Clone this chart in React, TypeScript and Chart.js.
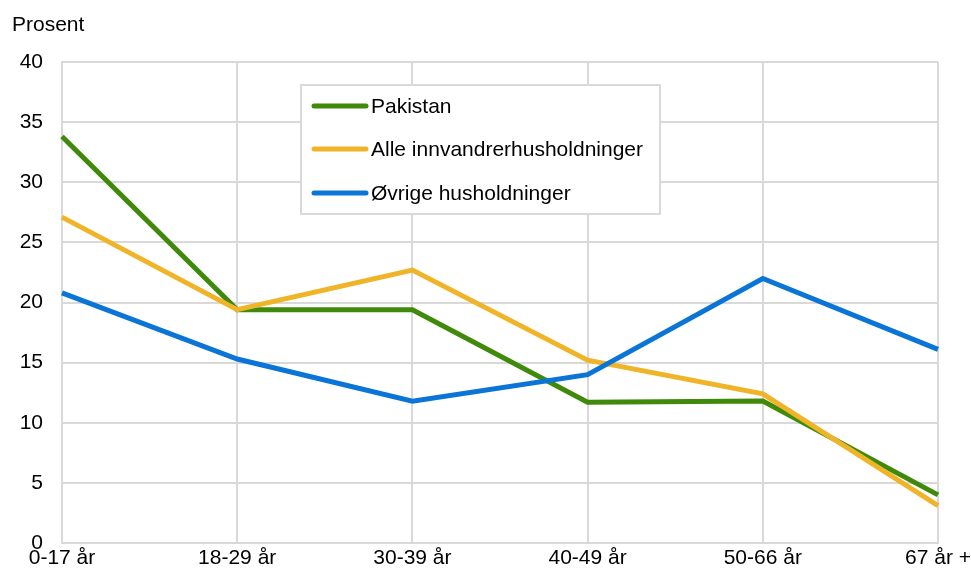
import React, { useEffect, useRef } from "react";
import Chart from "chart.js/auto";

const categories = ["0-17 år", "18-29 år", "30-39 år", "40-49 år", "50-66 år", "67 år +"];
const pakistan = [33.8, 19.4, 19.4, 11.7, 11.8, 4.0];
const alleInnvandrer = [27.1, 19.4, 22.7, 15.2, 12.4, 3.1];
const ovrige = [20.8, 15.3, 11.8, 14.0, 22.0, 16.1];
const seriesNames = ["Pakistan", "Alle innvandrerhusholdninger", "Øvrige husholdninger"];
const seriesColors = ["#3F8A0A", "#F0B429", "#0A75D6"];
const yMin = 0;
const yMax = 40;
const yStep = 5;
const yTitle = "Prosent";

const FONT = "'Liberation Sans', Arial, sans-serif";

const overlayPlugin = {
  id: "overlay",
  afterDraw(chart: any) {
    const ctx = chart.ctx;
    ctx.save();
    // y-axis title
    ctx.font = `21px ${FONT}`;
    ctx.fillStyle = "#000";
    ctx.textAlign = "left";
    ctx.textBaseline = "middle";
    ctx.fillText(yTitle, 12, 25);

    // legend box
    const bx = 301, by = 85, bw = 359, bh = 129;
    ctx.fillStyle = "#ffffff";
    ctx.fillRect(bx, by, bw, bh);
    ctx.strokeStyle = "#d9d9d9";
    ctx.lineWidth = 2;
    ctx.strokeRect(bx, by, bw, bh);
    const rows = [106, 149, 193];
    chart.data.datasets.forEach((ds: any, i: number) => {
      const y = rows[i];
      ctx.strokeStyle = ds.borderColor;
      ctx.lineWidth = 5;
      ctx.lineCap = "round";
      ctx.beginPath();
      ctx.moveTo(314, y);
      ctx.lineTo(366, y);
      ctx.stroke();
      ctx.fillStyle = "#000";
      ctx.font = `21px ${FONT}`;
      ctx.textAlign = "left";
      ctx.textBaseline = "middle";
      ctx.fillText(ds.label, 371, y + 1);
    });
    ctx.restore();
  },
};

export default function App() {
  const ref = useRef<HTMLCanvasElement | null>(null);
  useEffect(() => {
    document.body.style.margin = "0";
    if (!ref.current) return;
    const series = [pakistan, alleInnvandrer, ovrige];
    const orders = [2, 1, 0];
    const chart = new Chart(ref.current, {
      type: "line",
      data: {
        labels: categories,
        datasets: series.map((d, i) => ({
          label: seriesNames[i],
          data: d,
          borderColor: seriesColors[i],
          backgroundColor: seriesColors[i],
          borderWidth: 5,
          pointRadius: 0,
          tension: 0,
          fill: false,
          order: orders[i],
        })),
      },
      options: {
        animation: false,
        responsive: true,
        maintainAspectRatio: false,
        layout: { padding: { top: 62, right: 33, left: 0, bottom: 0 } },
        plugins: {
          legend: { display: false },
          tooltip: { enabled: false },
          title: { display: false },
        },
        scales: {
          x: {
            offset: false,
            grid: { color: "#d9d9d9", lineWidth: 2, drawTicks: false },
            border: { display: true, color: "#d9d9d9", width: 2 },
            ticks: {
              font: { family: FONT, size: 21 },
              color: "#000",
              padding: 3,
              maxRotation: 0,
              autoSkip: false,
            },
            afterFit: (s: any) => {
              s.height = 25;
              s.paddingLeft = 0;
              s.paddingRight = 0;
            },
          },
          y: {
            min: yMin,
            max: yMax,
            grid: { color: "#d9d9d9", lineWidth: 2, drawTicks: false },
            border: { display: true, color: "#d9d9d9", width: 2 },
            ticks: {
              stepSize: yStep,
              font: { family: FONT, size: 21 },
              color: "#000",
              padding: 19,
            },
            afterFit: (s: any) => {
              s.width = 62;
              s.paddingTop = 0;
              s.paddingBottom = 0;
            },
          },
        },
      },
      plugins: [overlayPlugin],
    });
    return () => chart.destroy();
  }, []);
  return (
    <div style={{ position: "absolute", left: 0, top: 0, width: 971, height: 568, background: "#fff" }}>
      <canvas ref={ref} />
    </div>
  );
}
